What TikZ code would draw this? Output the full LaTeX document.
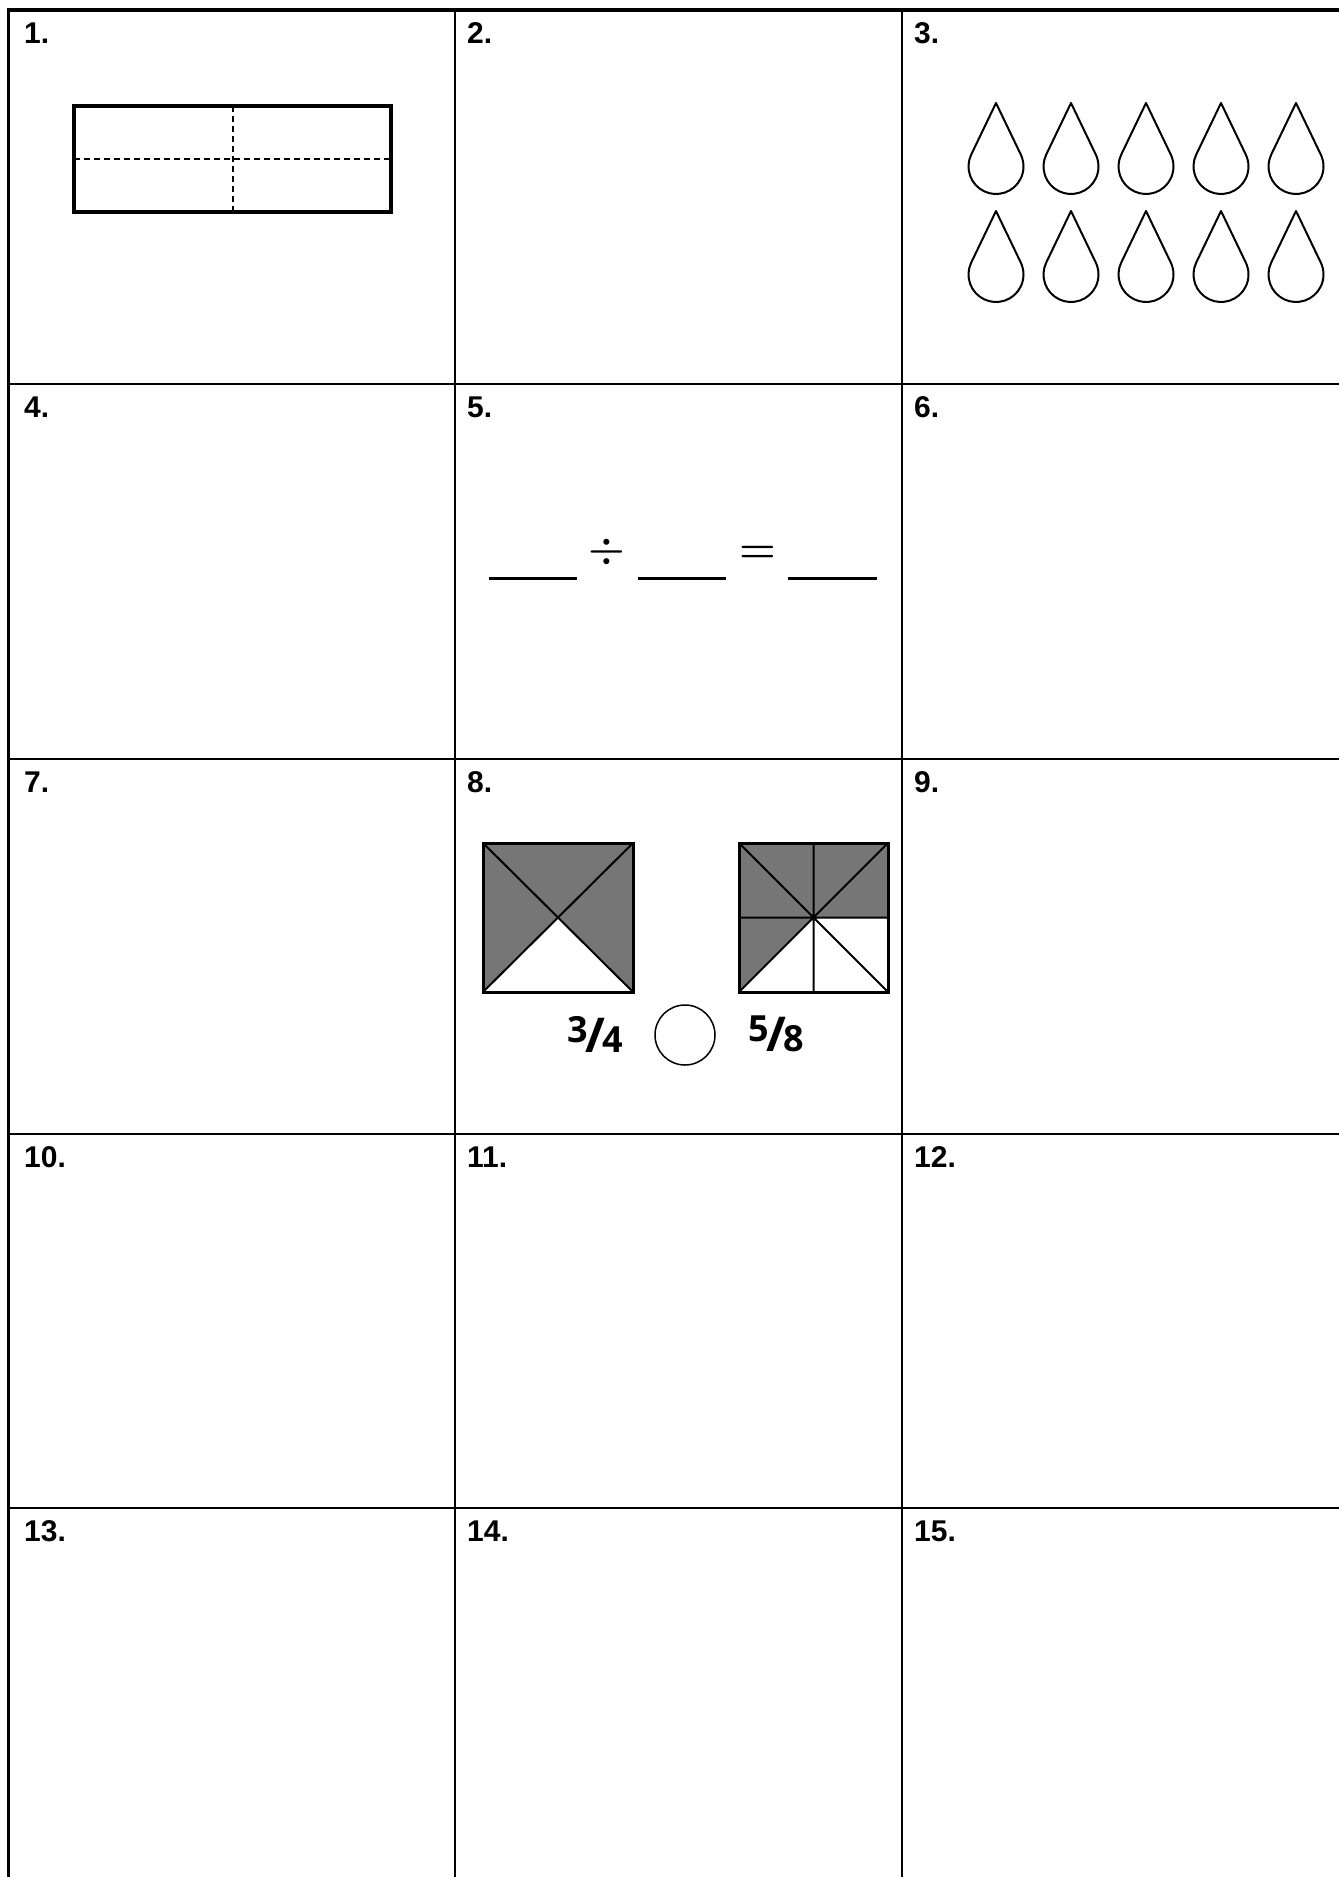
\documentclass[tikz,border=0pt]{standalone}
\usepackage{fontspec}
\setmainfont{Liberation Sans}
\newfontfamily\fracfont{Open Sans}
\newfontfamily\lmfont{Latin Modern Roman}
\definecolor{fillgray}{HTML}{767676}
\begin{document}
\begin{tikzpicture}[x=1pt,y=-1pt,
  gridline/.style={line width=2.5pt},
  topline/.style={line width=3.5pt},
  numlabel/.style={anchor=base west, inner sep=0pt, font=\fontsize{30}{30}\selectfont\bfseries},
  dropshape/.style={draw, line width=2pt, line join=round},
  blank/.style={line width=3pt},
  opsym/.style={anchor=base, inner sep=0pt, font=\fontsize{42}{42}\selectfont\lmfont\bfseries},
  frac/.style={inner sep=0pt, font=\fontsize{36}{36}\selectfont\fracfont\bfseries},
  sqframe/.style={line width=3pt},
  sqline/.style={line width=2pt}]
\useasboundingbox (0,0) rectangle (1339,1877);
\fill[white] (0,0) rectangle (1339,1877);

% grid
\foreach \x in {8.5,455,902} \draw[gridline] (\x,10) -- (\x,1877);
\draw[topline] (7,10) -- (1339,10);
\foreach \y in {384,759,1134,1508} \draw[gridline] (7,\y) -- (1339,\y);

% labels
\node[numlabel] (l1) at (24,43) {1.};
\node[numlabel] (l2) at (467,43) {2.};
\node[numlabel] (l3) at (914,43) {3.};
\node[numlabel] (l4) at (24,417) {4.};
\node[numlabel] (l5) at (467,417) {5.};
\node[numlabel] (l6) at (914,417) {6.};
\node[numlabel] (l7) at (24,792) {7.};
\node[numlabel] (l8) at (467,792) {8.};
\node[numlabel] (l9) at (914,792) {9.};
\node[numlabel] (l10) at (24,1167) {10.};
\node[numlabel] (l11) at (467,1167) {11.};
\node[numlabel] (l12) at (914,1167) {12.};
\node[numlabel] (l13) at (24,1541) {13.};
\node[numlabel] (l14) at (467,1541) {14.};
\node[numlabel] (l15) at (914,1541) {15.};

% problem 1
\draw[line width=2pt, dash pattern=on 6pt off 4pt] (74,159) -- (391,159);
\draw[line width=2pt, dash pattern=on 6pt off 4pt] (232.5,106) -- (232.5,212);
\draw[line width=3.5pt] (74,106) rectangle (391,212);

% problem 3
\foreach \i in {0,...,4}
  \foreach \t in {103,211}
    \draw[dropshape] ({996+75*\i},\t) -- ++(-24.78pt,-51.57pt)
      arc[start angle=154.3, end angle=385.7, radius=27.5pt] -- cycle;

% problem 5
\coordinate (b1a) at (489,578); \coordinate (b1b) at (577,578);
\coordinate (b2a) at (638,578); \coordinate (b2b) at (726,578);
\coordinate (b3a) at (788,578); \coordinate (b3b) at (877,578);
\draw[blank] (b1a) -- (b1b);
\draw[blank] (b2a) -- (b2b);
\draw[blank] (b3a) -- (b3b);
\node[opsym] (div) at (607,562.5) {÷};
\node[opsym] (eq) at (757.5,562.5) {=};

% problem 8, square 1
\fill[fillgray] (483,843) -- (633,843) -- (633,992) -- (558,917.5) -- (483,992) -- cycle;
\draw[sqline] (483,843) -- (633,992) (633,843) -- (483,992);
\draw[sqframe] (483,843) rectangle (633,992);

% problem 8, square 2
\fill[fillgray] (739,843) -- (888,843) -- (888,917.5) -- (813.5,917.5) -- (739,992) -- cycle;
\draw[sqline] (739,843) -- (888,992) (888,843) -- (739,992)
  (813.5,843) -- (813.5,992) (739,917.5) -- (888,917.5);
\draw[sqframe] (739,843) rectangle (888,992);

% comparison
\node[circle, draw, line width=1.5pt, minimum size=60pt, inner sep=0pt] (cmp) at (685,1035) {};
\node[frac] (f1) at (595,1034) {\raisebox{10pt}{3}\kern-2pt{\fontsize{48}{48}\selectfont/}\kern-3pt4};
\node[frac] (f2) at (776,1034) {\raisebox{10pt}{5}\kern-2pt{\fontsize{48}{48}\selectfont/}\kern-3pt8};
\end{tikzpicture}
\end{document}
